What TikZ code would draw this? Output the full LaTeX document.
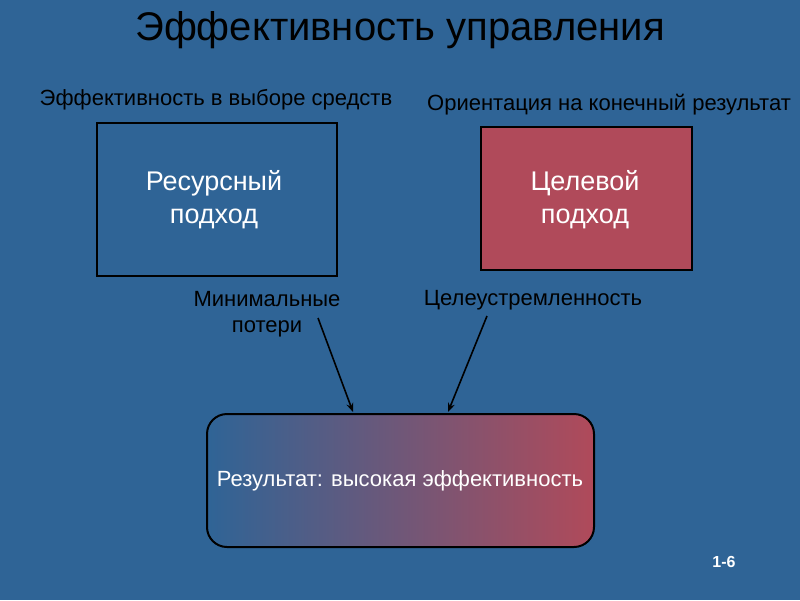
\documentclass[tikz,border=0pt]{standalone}
\usepackage{fontspec}
\setmainfont{Liberation Sans}
\usetikzlibrary{arrows.meta}
\definecolor{bg}{RGB}{47,100,150}
\definecolor{rd}{RGB}{176,74,90}
\begin{document}
\begin{tikzpicture}[x=1pt,y=-1pt,
  lbl/.style={font=\fontsize{22}{26}\selectfont, text=black, align=center, inner sep=0},
  boxtxt/.style={font=\fontsize{27}{33}\selectfont, text=white, align=center},
  arr/.style={draw=black, line width=1.6pt, -{Stealth[length=9pt,width=7pt]}}]
\useasboundingbox[fill=bg] (0,0) rectangle (800,600);
\node[font=\fontsize{40}{46}\selectfont, text=black] (title) at (400,30) {Эффективность управления};
\node[lbl] (l1) at (216,100) {Эффективность в выборе средств};
\node[lbl] (l2) at (609,105) {Ориентация на конечный результат};
\draw[black, line width=2pt] (97,123) rectangle (337,276);
\node[boxtxt] (res) at (214,200) {Ресурсный\\ подход};
\draw[black, line width=1.5pt, fill=rd] (481,127) rectangle (692,270);
\node[boxtxt] (tsel) at (585,200) {Целевой\\ подход};
\node[lbl] (min) at (267,314) {Минимальные\\потери};
\node[lbl] (tsu) at (533,300) {Целеустремленность};
\draw[black, line width=2pt, rounded corners=20pt, left color=bg, right color=rd, middle color=rd!50!bg] (207,414) rectangle (594,547);
\node[font=\fontsize{22}{26}\selectfont, text=white] (out) at (400,481) {Результат: высокая эффективность};
\coordinate (a1) at (353,412);
\coordinate (a2) at (448,412);
\draw[arr] (318,318) -- (a1);
\draw[arr] (487,316) -- (a2);
\node[font=\bfseries\fontsize{16}{18}\selectfont, text=white] (pg) at (724,562) {1-6};
\end{tikzpicture}
\end{document}
